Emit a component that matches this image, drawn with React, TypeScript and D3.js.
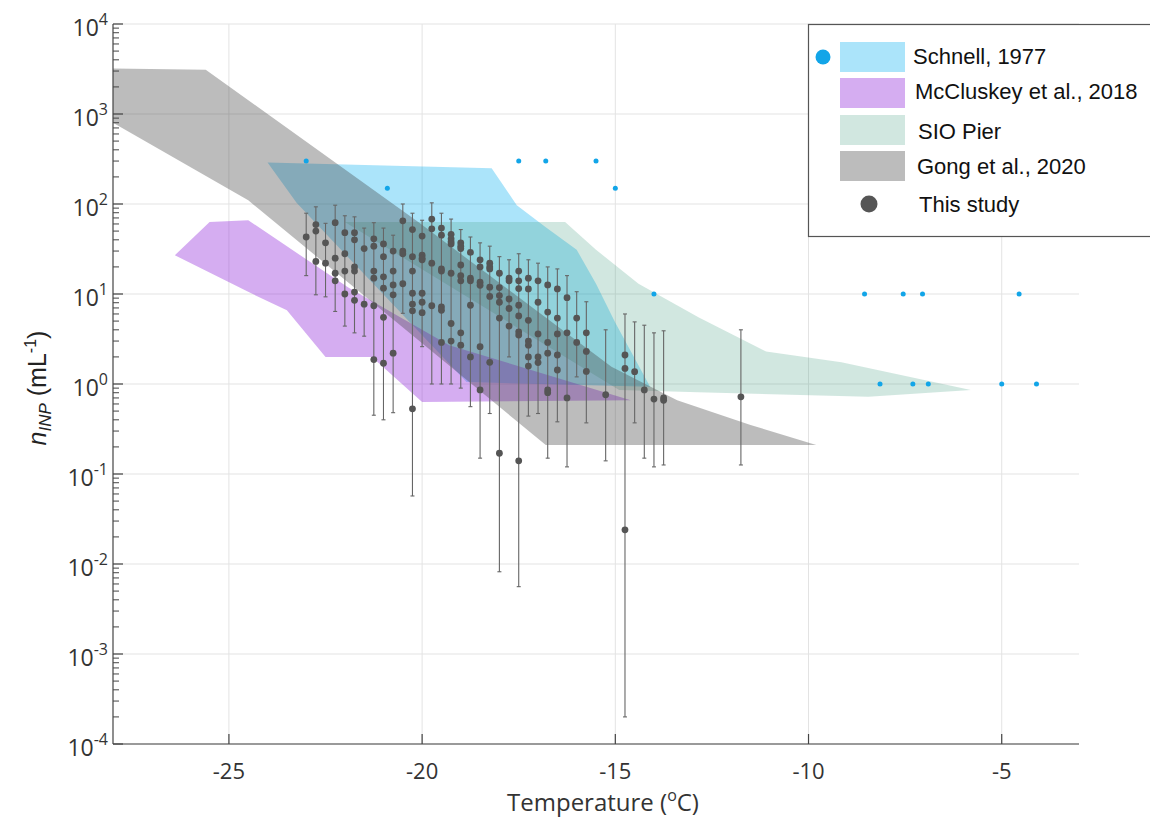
import React from 'react';
import * as d3 from 'd3';

// shaded ranges from earlier studies (temperature in degC, n_INP in mL^-1)
const schnellBandT = [-24, -18.2, -17.55, -16.8, -16, -15.5, -15, -14.1, -18.85, -23.25];
const schnellBandN = [290, 250, 97, 55, 31, 13, 4.8, 0.93, 1.05, 103];
const mccluskeyT = [-26.4, -25.5, -24.5, -21.9, -19.3, -14.6, -20, -21.3, -22.5, -23.5, -24.45];
const mccluskeyN = [27, 63, 66, 11.7, 2.7, 0.66, 0.63, 2.0, 2.0, 6.6, 10.3];
const sioT = [-22, -16.3, -15.5, -14.4, -12.85, -11.1, -9.15, -5.8, -8.45, -12.85, -14.9];
const sioN = [63, 63, 31, 13, 5.5, 2.3, 1.75, 0.86, 0.72, 0.81, 0.86];
const gongT = [-28, -25.6, -20.1, -15.1, -13.4, -11.5, -9.8, -16.8, -24.5, -28];
const gongN = [3200, 3100, 63, 1.55, 0.66, 0.35, 0.21, 0.21, 110, 800];

// Schnell 1977 single points
const schnellPtT = [-23, -20.9, -17.5, -16.8, -15.5, -15, -14, -8.55, -7.55, -7.05, -4.55, -8.15, -7.3, -6.9, -5, -4.1];
const schnellPtN = [300, 150, 300, 300, 300, 150, 10, 10, 10, 10, 10, 1, 1, 1, 1, 1];

// this study: one entry per temperature step
const colT = [
  -23, -22.75, -22.5, -22.25, -22, -21.75, -21.5, -21.25, -21, -20.75,
  -20.5, -20.25, -20, -19.75, -19.5, -19.25, -19, -18.75, -18.5, -18.25,
  -18, -17.75, -17.5, -17.25, -17, -16.75, -16.5, -16.25, -16, -15.75,
  -15.25, -14.75, -14.5, -14.25, -14, -13.75, -11.75,
];
const colN = [
  [43], [59, 50, 23], [37, 22], [62, 25, 17, 14], [48, 28, 18, 10],
  [48, 40, 20, 18, 10.5, 8.5], [32, 7.7], [41, 34, 18, 15, 7.4, 1.87], [36, 26, 15.5, 11.6, 5.5, 1.7], [30, 18, 12.6, 9.8, 2.2],
  [65, 30, 28, 13], [52, 26, 18, 10.2, 7.7, 6.5, 0.53], [44, 27, 25, 24, 10.2, 8.1, 6.2], [68, 53, 22, 7.4], [54, 45, 19, 18, 7.2, 6.6, 2.9],
  [46, 41, 38, 36, 17, 4.7, 3.0], [37, 34, 32, 21, 16, 14, 3.7, 2.7], [29, 15, 14, 7.5, 2.0], [24, 20, 13.5, 12.5, 2.6, 0.86], [22, 20, 19, 11.9, 9.4, 1.74],
  [17, 11.8, 9.6, 8.1, 5.4, 0.17], [15, 14, 8.8, 6.9, 4.4], [18, 14, 11.5, 7.5, 5.7, 3.8, 3.5, 0.14], [15, 11.4, 5.1, 3.0, 2.7, 2.0, 1.58], [14, 8.1, 3.6, 2.0, 1.73],
  [12.6, 6.3, 2.9, 2.2, 0.86, 0.8], [11.4, 5.4, 3.6, 2.1, 1.43], [9.1, 3.7, 0.7], [5.4, 2.9], [3.7, 2.3, 1.38],
  [0.76], [2.1, 1.49, 0.024], [1.37], [0.86], [0.68], [0.7, 0.66], [0.72],
];
const colLo = [
  16, 9.8, 9.3, 6.4, 4.4, 3.7, 3.4, 0.45, 0.4, 0.48,
  6.1, 0.057, 2.6, 1.0, 1.0, 1.0, 0.9, 0.56, 0.15, 0.47,
  0.0082, 2.0, 0.0056, 0.44, 0.47, 0.15, 0.38, 0.12, 1.2, 0.37,
  0.14, 0.0002, 0.37, 0.15, 0.12, 0.126, 0.126,
];
const colHi = [
  79, 93, 61, 97, 74, 72, 54, 62, 54, 45,
  100, 79, 66, 103, 79, 68, 52, 43, 37, 34,
  26, 24, 28, 24, 22, 20, 19, 16, 10.6, 8.2,
  4.0, 6.0, 4.9, 4.5, 3.7, 3.9, 4.0,
];

const xTicks = [-25, -20, -15, -10, -5];
const yExps = [-4, -3, -2, -1, 0, 1, 2, 3, 4];

const legendNames = ['Schnell, 1977', 'McCluskey et al., 2018', 'SIO Pier', 'Gong et al., 2020', 'This study'];

const bands = [
  { t: schnellBandT, n: schnellBandN, color: 'rgb(0,174,239)', alpha: 0.33 },
  { t: mccluskeyT, n: mccluskeyN, color: 'rgb(150,50,220)', alpha: 0.4 },
  { t: sioT, n: sioN, color: 'rgb(70,160,130)', alpha: 0.25 },
  { t: gongT, n: gongN, color: 'rgb(64,64,64)', alpha: 0.35 },
];

const App = () => {
  const x = d3.scaleLinear().domain([-28, -3]).range([113, 1079]);
  const y = d3.scaleLog().domain([1e-4, 1e4]).range([744, 24]);
  const [x0, x1] = x.range();
  const [yb, yt] = y.range();

  const bandPath = (ts: number[], ns: number[]) =>
    d3.line<number>().x((i) => x(ts[i])).y((i) => y(ns[i]))(d3.range(ts.length)) + 'Z';

  const minor: number[] = [];
  yExps.slice(0, -1).forEach((e) => {
    for (let k = 2; k <= 9; k++) minor.push(k * 10 ** e);
  });

  const tickFont = "'Open Sans', 'DejaVu Sans', sans-serif";
  const legFont = "'Liberation Sans', Arial, sans-serif";

  return (
    <svg width={1150} height={820} style={{ position: 'absolute', left: 0, top: 0, background: '#fff' }}>
      {/* grid */}
      <g stroke="#e3e3e3" strokeWidth={1}>
        {xTicks.map((t) => (
          <line key={t} x1={x(t)} x2={x(t)} y1={yt} y2={yb} />
        ))}
        {yExps.map((e) => (
          <line key={e} x1={x0} x2={x1} y1={y(10 ** e)} y2={y(10 ** e)} />
        ))}
      </g>

      {/* shaded ranges */}
      {bands.map((b, i) => (
        <path key={i} d={bandPath(b.t, b.n)} fill={b.color} fillOpacity={b.alpha} stroke="none" />
      ))}

      {/* error bars */}
      <g stroke="#666" strokeWidth={1.1}>
        {colT.map((t, i) => (
          <g key={i}>
            <line x1={x(t)} x2={x(t)} y1={y(colHi[i])} y2={y(colLo[i])} />
            <line x1={x(t) - 2} x2={x(t) + 2} y1={y(colHi[i])} y2={y(colHi[i])} />
            <line x1={x(t) - 2} x2={x(t) + 2} y1={y(colLo[i])} y2={y(colLo[i])} />
          </g>
        ))}
      </g>

      {/* this study */}
      <g fill="#555">
        {colT.map((t, i) =>
          colN[i].map((v, j) => <circle key={i + '-' + j} cx={x(t)} cy={y(v)} r={3.4} />)
        )}
      </g>

      {/* Schnell points */}
      <g fill="#12a5e8">
        {schnellPtT.map((t, i) => (
          <circle key={i} cx={x(t)} cy={y(schnellPtN[i])} r={2.5} />
        ))}
      </g>

      {/* axes */}
      <g stroke="#444" strokeWidth={1.2}>
        <line x1={x0} x2={x0} y1={yt} y2={yb} />
        <line x1={x0} x2={x1} y1={yb} y2={yb} />
        {yExps.map((e) => (
          <line key={e} x1={x0} x2={x0 + 10} y1={y(10 ** e)} y2={y(10 ** e)} />
        ))}
        {minor.map((v, i) => (
          <line key={i} x1={x0} x2={x0 + 6} y1={y(v)} y2={y(v)} strokeWidth={1} />
        ))}
        {xTicks.map((t) => (
          <line key={t} x1={x(t)} x2={x(t)} y1={yb} y2={yb - 10} />
        ))}
      </g>

      <g fontFamily={tickFont} fill="#333">
        {yExps.map((e) => (
          <text key={e} x={108} y={y(10 ** e) + 12} textAnchor="end" fontSize={23}>
            10
            <tspan dy={-11} fontSize={16}>{e}</tspan>
          </text>
        ))}
        {xTicks.map((t) => (
          <text key={t} x={x(t)} y={779} textAnchor="middle" fontSize={22}>
            {t}
          </text>
        ))}
        <text x={603} y={811} textAnchor="middle" fontSize={24}>
          Temperature (<tspan dy={-10} fontSize={16}>o</tspan>
          <tspan dy={10}>C)</tspan>
        </text>
      </g>

      <text transform="translate(46,388) rotate(-90)" textAnchor="middle" fontFamily={legFont} fontSize={25} fill="#222">
        <tspan fontStyle="italic">n</tspan>
        <tspan fontStyle="italic" fontSize={17} dy={5}>INP</tspan>
        <tspan dy={-5}> (mL</tspan>
        <tspan fontSize={16} dy={-10}>-1</tspan>
        <tspan dy={10}>)</tspan>
      </text>

      {/* legend */}
      <g>
        <rect x={808.5} y={24.5} width={400} height={212} fill="#fff" stroke="#555" strokeWidth={1.2} />
        <circle cx={823} cy={57} r={7.5} fill="#12a5e8" />
        {bands.map((b, i) => (
          <rect key={i} x={840} y={[42, 78, 115, 151][i]} width={65} height={30} fill={b.color} fillOpacity={b.alpha} />
        ))}
        <circle cx={869} cy={204} r={8.5} fill="#555" />
        {legendNames.map((s, i) => (
          <text key={s} x={[913, 915, 918, 917, 919][i]} y={[64, 99, 139, 174, 212][i]} fontFamily={legFont} fontSize={22} fill="#111">
            {s}
          </text>
        ))}
      </g>
    </svg>
  );
};

export default App;
